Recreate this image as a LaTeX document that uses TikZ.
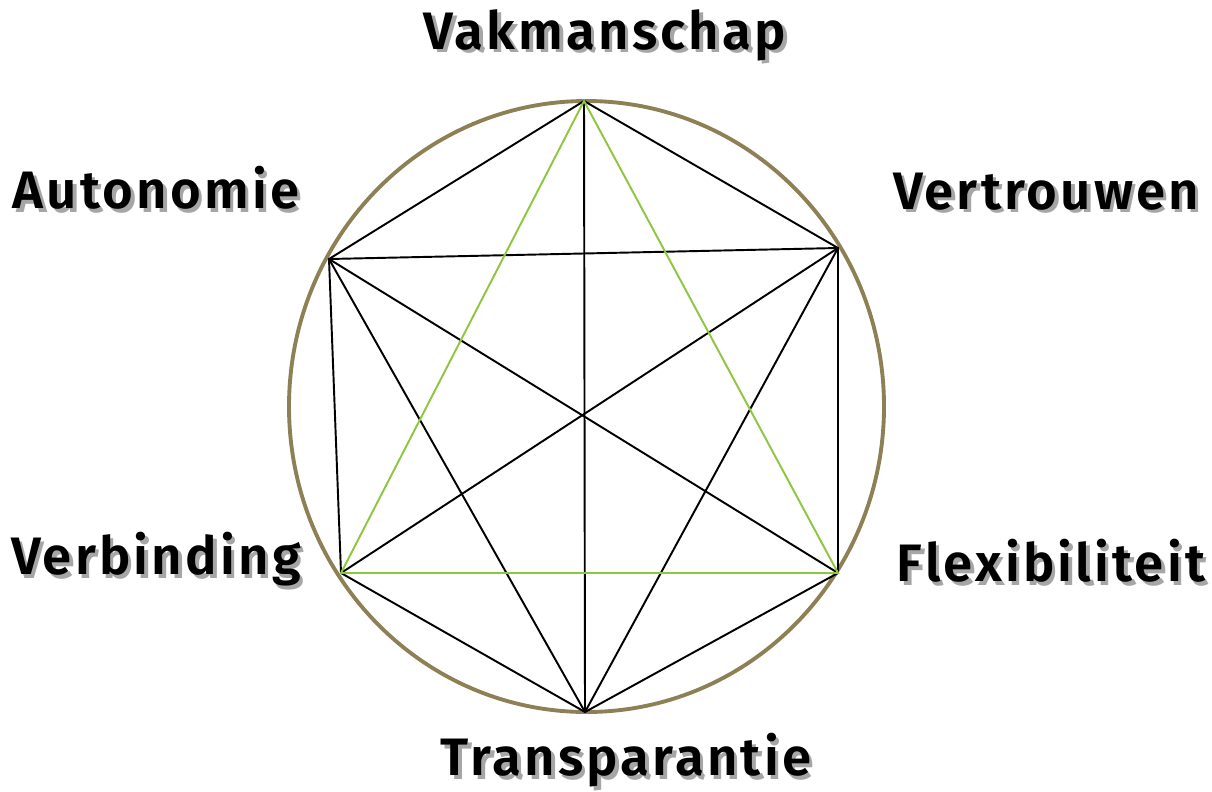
\documentclass[tikz,border=0pt]{standalone}
\usepackage{fontspec}
\setmainfont{Fira Sans}[BoldFont={Fira Sans SemiBold}]
\newfontfamily\lblfont{Fira Sans SemiBold}[LetterSpace=6]
\usepackage{xcolor}
\definecolor{rim}{RGB}{140,128,84}
\definecolor{lime}{RGB}{141,198,63}
\newcommand{\shtext}[1]{\makebox[0pt][l]{\raisebox{-2pt}{\hspace{2pt}\color{black!35}#1}}#1}

\begin{document}
\begin{tikzpicture}[x=0.02cm,y=-0.02cm,
    lbl/.style={font=\fontsize{30}{34}\lblfont,inner sep=0pt},
    edge/.style={black,line width=1.1pt},
    tri/.style={lime,line width=1.1pt}]
\useasboundingbox (0,0) rectangle (1212,791);
% corners of the figure
\coordinate (T) at (584,101);
\coordinate (UL) at (329,259);
\coordinate (UR) at (838,248);
\coordinate (LL) at (341,573);
\coordinate (LR) at (838,573);
\coordinate (B) at (585,712);
\draw[rim,line width=2.2pt] (586.5,406.5) ellipse [x radius=297.5, y radius=305.5];
% hexagon and all diagonals
\draw[edge] (T) -- (UL) -- (LL) -- (B) -- (LR) -- (UR) -- cycle;
\draw[edge] (UL) -- (UR);
\draw[edge] (T) -- (B);
\draw[edge] (UL) -- (LR);
\draw[edge] (UR) -- (LL);
\draw[edge] (UL) -- (B);
\draw[edge] (UR) -- (B);
\draw[tri] (T) -- (LL) -- (LR) -- cycle;
% labels
\node[lbl] (vak) at (605,37) {\shtext{Vakmanschap}};
\node[lbl] (aut) at (156,190) {\shtext{Autonomie}};
\node[lbl] (ver) at (1046,193) {\shtext{Vertrouwen}};
\node[lbl] (verb) at (156,561) {\shtext{Verbinding}};
\node[lbl] (flex) at (1051,563) {\shtext{Flexibiliteit}};
\node[lbl] (tra) at (626,762) {\shtext{Transparantie}};
\end{tikzpicture}
\end{document}
